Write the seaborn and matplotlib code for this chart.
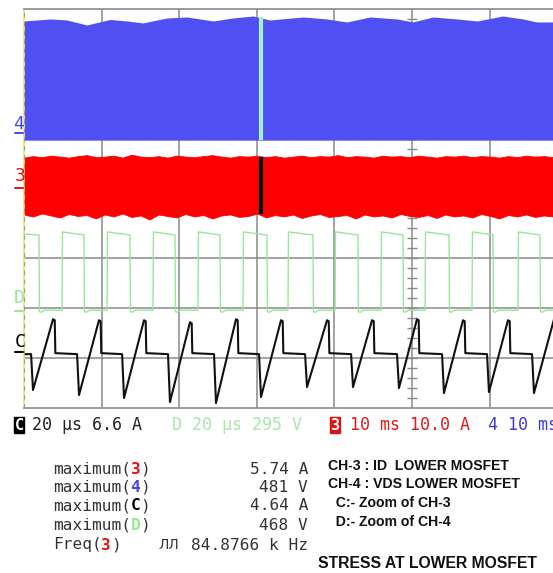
import numpy as np
import pandas as pd
import seaborn as sns
import matplotlib
matplotlib.use("Agg")
import matplotlib.pyplot as plt
from matplotlib.lines import Line2D
from matplotlib import font_manager


# === Data (x in divisions, y in divisions) ===
# CH-4 (VDS, 10 ms/div) - top envelope of the dense burst
blue_t = [0.00, 0.34, 0.55, 0.81, 1.11, 1.33, 1.53, 1.84, 2.10, 2.44, 2.69, 2.95, 3.17,
          3.60, 3.90, 4.16, 4.46, 4.81, 5.01, 5.27, 5.58, 5.84, 6.17, 6.43, 6.61, 6.82]
blue_top = [7.76, 7.80, 7.78, 7.68, 7.79, 7.76, 7.72, 7.82, 7.84, 7.76, 7.82, 7.86, 7.78,
            7.84, 7.80, 7.74, 7.84, 7.80, 7.74, 7.84, 7.80, 7.76, 7.86, 7.80, 7.74, 7.74]
blue_bottom = 5.37

# CH-3 (ID, 10 ms/div) - upper / lower envelope of the noisy band
red_top = [5.02, 5.05, 5.03, 5.06, 5.04, 5.02, 5.05, 5.07, 5.03, 5.04, 5.06, 5.02, 5.08, 5.04,
           5.03, 5.05, 5.02, 5.06, 5.04, 5.03, 5.05, 5.07, 5.04, 5.02, 5.05, 5.04, 5.06, 5.03,
           5.05, 5.02, 5.04, 5.06, 5.03, 5.05, 5.04, 5.07, 5.03, 5.05, 5.04, 5.02, 5.06, 5.04,
           5.05, 5.03, 5.06, 5.04, 5.02, 5.05, 5.04, 5.06, 5.03, 5.05, 5.04, 5.02, 5.05, 5.03,
           5.06, 5.04, 5.05, 5.03]
red_bottom = [3.88, 3.84, 3.90, 3.86, 3.82, 3.89, 3.85, 3.87, 3.80, 3.88, 3.84, 3.90, 3.83, 3.86,
              3.78, 3.88, 3.85, 3.82, 3.89, 3.84, 3.87, 3.80, 3.86, 3.88, 3.83, 3.85, 3.90, 3.82,
              3.87, 3.84, 3.88, 3.81, 3.86, 3.89, 3.83, 3.85, 3.87, 3.80, 3.88, 3.84, 3.86, 3.82,
              3.89, 3.85, 3.83, 3.87, 3.81, 3.88, 3.84, 3.86, 3.82, 3.89, 3.85, 3.80, 3.87, 3.84,
              3.88, 3.83, 3.86, 3.84]
zoom_t = 3.05  # position of the 20 us zoom window

# C: zoom of CH-3 (20 us/div)
c_base = 1.08
c_trough_t = [0.116, 0.709, 1.289, 1.881, 2.474, 3.054, 3.647, 4.240, 4.832, 5.412, 5.992, 6.572]
c_trough_v = [0.36, 0.26, 0.20, 0.12, 0.10, 0.22, 0.42, 0.42, 0.40, 0.30, 0.32, 0.30]
c_peak_t = [0.374, 0.966, 1.546, 2.139, 2.732, 3.312, 3.905, 4.485, 5.064, 5.657, 6.237, 6.83]
c_peak_v = [1.78, 1.76, 1.76, 1.72, 1.78, 1.76, 1.76, 1.76, 1.78, 1.76, 1.76, 1.78]

# D: zoom of CH-4 (20 us/div)
d_high = [3.53, 3.47]   # level just after rise / just before fall
d_low = 1.96
d_fall_t = [0.193, 0.773, 1.366, 1.946, 2.526, 3.131, 3.724, 4.304, 4.884, 5.477, 6.044, 6.649]
d_rise_t = [0.490, 1.070, 1.662, 2.242, 2.822, 3.402, 4.008, 4.600, 5.168, 5.773, 6.366]

# readouts
meas_names = ["3", "4", "C", "D"]
meas_values = ["5.74 A", "481 V", "4.64 A", "468 V"]
freq_value = "84.8766 k Hz"
notes = ["CH-3 : ID  LOWER MOSFET", "CH-4 : VDS LOWER MOSFET",
         "  C:- Zoom of CH-3", "  D:- Zoom of CH-4"]

BLUE = "#5050F2"
RED = "#FE0000"
GREEN = "#98E698"
GRID = "#8A8A8A"

W, H = 553, 573
DIV = 77.6  # px per horizontal division

sns.set_style("white")
mono = "DejaVu Sans Mono"
names = {f.name for f in font_manager.fontManager.ttflist}
narrow = "Liberation Sans Narrow" if "Liberation Sans Narrow" in names else "Liberation Sans"
note_size = 11 if narrow != "Liberation Sans" else 10.1


def fx(x, y):
    return x / W, 1 - y / H


fig = plt.figure(figsize=(W / 100, H / 100), dpi=100)
ax = fig.add_axes([24 / W, (H - 408) / H, (W - 24) / W, 399 / H])
ax.set_xlim(0, (W - 24) / DIV)
ax.set_ylim(0, 8)
ax.set_xticks([])
ax.set_yticks([])
for s in ["top", "bottom"]:
    ax.spines[s].set_color(GRID)
    ax.spines[s].set_linewidth(1.2)
ax.spines["right"].set_visible(False)
ax.spines["left"].set_color("#E8E46A")
ax.spines["left"].set_linewidth(1.2)
ax.plot([0.004, 0.004], [0, 8], color="#9a9a9a", lw=0.8, ls=(0, (4, 4)), zorder=6)

# graticule
for k in range(1, 7):
    ax.axvline(k, color=GRID, lw=1.1, zorder=1)
for j in range(1, 8):
    ax.axhline(j, color=GRID, lw=1.1, zorder=1)
yt = np.arange(0.2, 8, 0.2)
ax.hlines(yt, 5 - 0.065, 5 + 0.065, color=GRID, lw=1.0, zorder=1)

# CH-4 and CH-3 bands
ax.fill_between(blue_t, blue_bottom, blue_top, color=BLUE, lw=0, zorder=2)
red_t = np.linspace(0, (W - 24) / DIV, len(red_top))
ax.fill_between(red_t, red_bottom, red_top, color=RED, lw=0.6, ec=RED, zorder=2)
ax.vlines(zoom_t, blue_bottom, 7.83, color="#A6F0C6", lw=3, zorder=3)
ax.vlines(zoom_t, 3.88, 5.03, color="black", lw=3, zorder=3)

# D trace
dx, dy = [0.0], [3.49]
for i, f in enumerate(d_fall_t):
    dx += [f, f + 0.006, f + 0.03, f + 0.07]
    dy += [d_high[1], d_low - 0.03, d_low - 0.04, d_low]
    if i < len(d_rise_t):
        r = d_rise_t[i]
        dx += [r, r + 0.006]
        dy += [d_low, d_high[0]]
dx.append(7.0)
dy.append(d_low)
sns.lineplot(x=dx, y=dy, sort=False, estimator=None, color=GREEN, lw=1.0, ax=ax, zorder=4)

# C trace
cx, cy = [0.0], [c_base]
for i, t in enumerate(c_trough_t):
    cx += [t - 0.025, t, c_peak_t[i], c_peak_t[i] + 0.022, c_peak_t[i] + 0.03]
    cy += [c_base, c_trough_v[i], c_peak_v[i], c_peak_v[i] - 0.02, c_base + 0.02]
sns.lineplot(x=cx, y=cy, sort=False, estimator=None, color="#111111", lw=1.5, ax=ax, zorder=5)

# channel markers at left of screen
for lab, col, (x, y), uy in [("4", "#4646E6", (19, 124), 133), ("3", "#E81010", (20, 176), 188),
                              ("D", GREEN, (19, 298), 311), ("C", "black", (20, 342), 352)]:
    fig.text(*fx(x, y), lab, color=col, fontsize=13, family=mono, ha="center", va="center")
    fig.add_artist(Line2D([15 / W, 23 / W], [1 - uy / H] * 2, color=col, lw=1.4))

# status line
sy = 425
fig.text(*fx(19, sy), "C", color="white", fontsize=11, family=mono, weight="bold",
         ha="center", va="center", bbox=dict(boxstyle="square,pad=0.05", fc="black", ec="black"))
fig.text(*fx(32, sy), "20 µs 6.6 A", color="#222222", fontsize=12, family=mono, va="center")
fig.text(*fx(172, sy), "D 20 µs 295 V", color="#A8E6A8", fontsize=12, family=mono, va="center")
fig.text(*fx(335, sy), "3", color="white", fontsize=11, family=mono, weight="bold",
         ha="center", va="center", bbox=dict(boxstyle="square,pad=0.05", fc="#E01010", ec="#E01010"))
fig.text(*fx(350, sy), "10 ms 10.0 A", color="#E01818", fontsize=12, family=mono, va="center")
fig.text(*fx(488, sy), "4 10 ms", color="#3C3CDC", fontsize=12, family=mono, va="center")

# measurement block (monospace: one char = 0.602 em)
msize = 11.6
cw = 0.602 * msize * 100 / 72
rows = [469, 487, 506, 525]
mcol = {"3": "#E81010", "4": "#4646E6", "C": "black", "D": GREEN}
for y, n, v in zip(rows, meas_names, meas_values):
    fig.text(*fx(53, y), "maximum(", color="#333333", fontsize=msize, family=mono, va="center")
    fig.text(*fx(53 + 8 * cw, y), n, color=mcol[n], fontsize=msize, family=mono,
             weight="bold", va="center")
    fig.text(*fx(53 + 9 * cw, y), ")", color="#333333", fontsize=msize, family=mono, va="center")
    fig.text(*fx(308, y), v, color="#333333", fontsize=msize, family=mono, ha="right", va="center")
fy = 545
fig.text(*fx(53, fy), "Freq(", color="#333333", fontsize=msize, family=mono, va="center")
fig.text(*fx(53 + 5 * cw, fy), "3", color="#E81010", fontsize=msize, family=mono,
         weight="bold", va="center")
fig.text(*fx(53 + 6 * cw, fy), ")", color="#333333", fontsize=msize, family=mono, va="center")
fig.text(*fx(158, fy), "ЛЛ", color="#333333", fontsize=10, family="DejaVu Sans", va="center")
fig.text(*fx(308, fy), freq_value, color="#333333", fontsize=msize, family=mono,
         ha="right", va="center")

for y, s in zip(rows, notes):
    fig.text(*fx(328, y - 3), s, color="#111111", fontsize=note_size, family=narrow,
             weight="bold", va="center")
fig.text(*fx(318, 563), "STRESS AT LOWER MOSFET", color="#111111", fontsize=11.3,
         family="Liberation Sans", weight="bold", va="center")

fig.savefig("out.png", dpi=100, facecolor="white")
plt.close(fig)
